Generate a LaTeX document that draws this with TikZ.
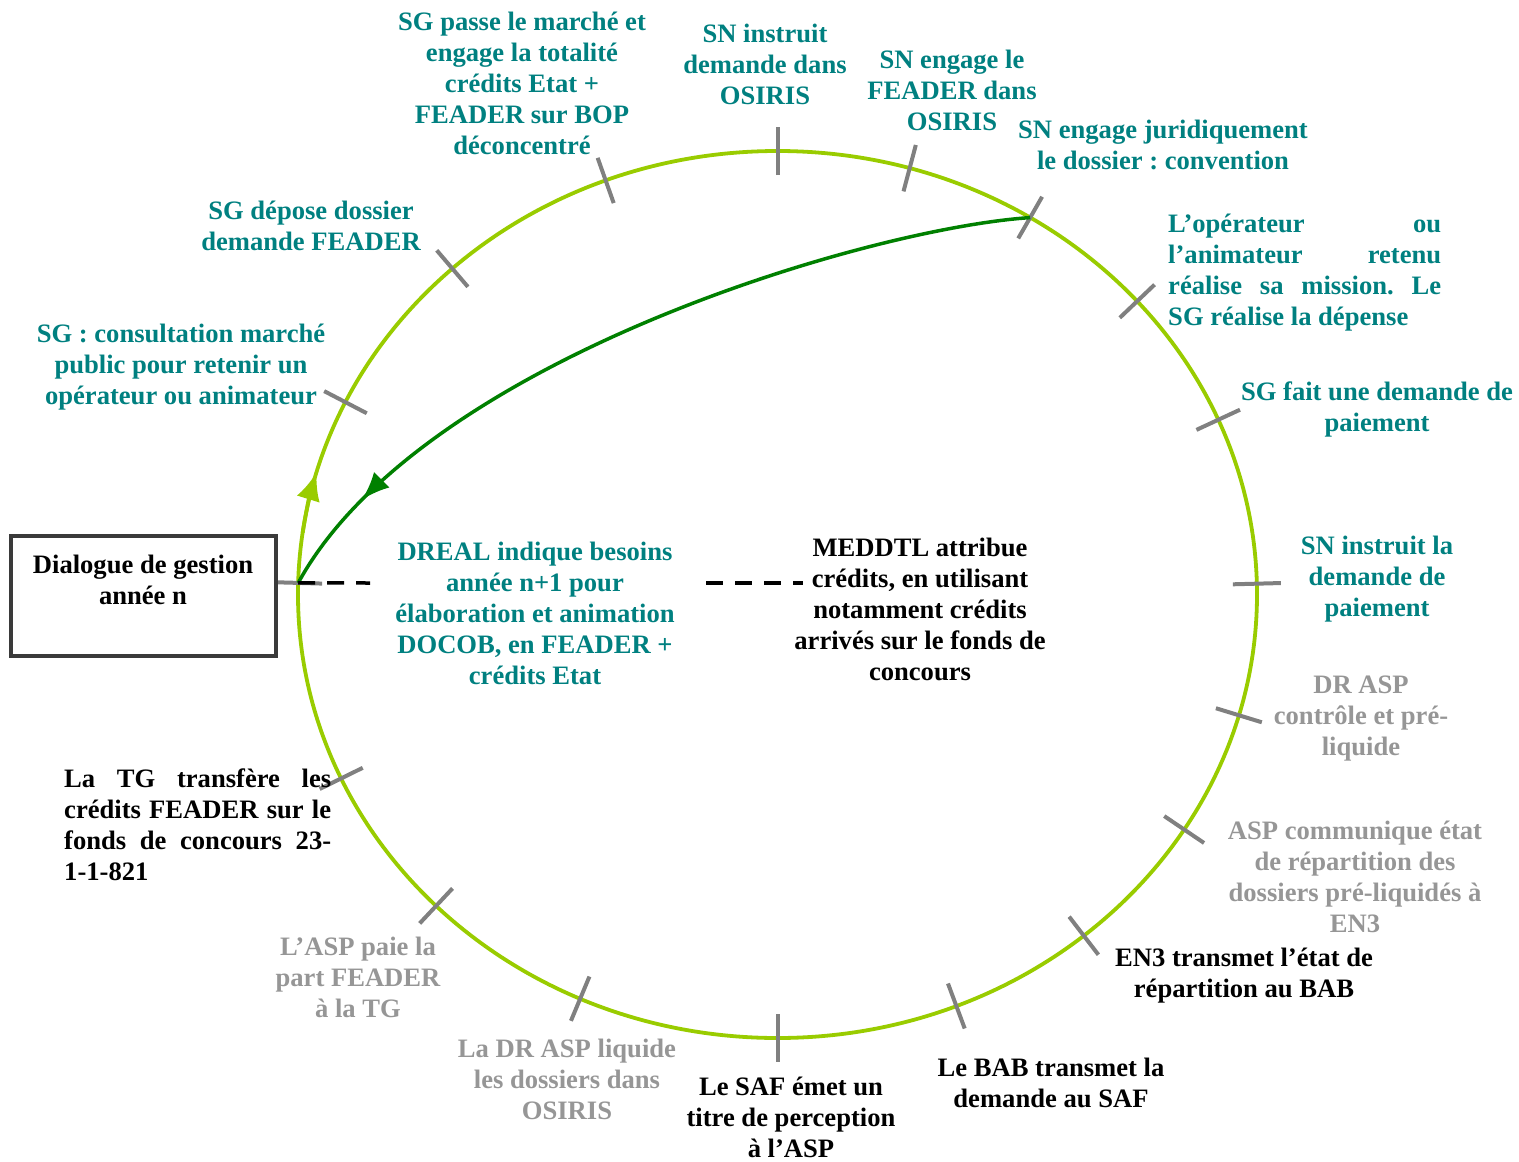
\documentclass[tikz,border=0pt]{standalone}
\usepackage{fontspec}
\setmainfont{Liberation Serif}
\frenchspacing
\usetikzlibrary{arrows.meta,decorations.markings}
\definecolor{teal}{RGB}{0,128,128}
\definecolor{lgreen}{RGB}{153,204,0}
\definecolor{dgreen}{RGB}{0,128,0}
\definecolor{tickgray}{RGB}{128,128,128}
\definecolor{txtgray}{RGB}{150,150,150}
\definecolor{boxgray}{RGB}{58,58,58}
\tikzset{
  lbl/.style={inner sep=0pt, align=center, font={\fontsize{26.6}{31}\selectfont\bfseries\frenchspacing}},
  tealtxt/.style={lbl, text=teal},
  blacktxt/.style={lbl, text=black},
  graytxt/.style={lbl, text=txtgray},
  tickline/.style={draw=tickgray, line width=4pt},
  ring/.style={draw=lgreen, line width=3.8pt},
  blackdash/.style={draw=black, line width=3.5pt, dash pattern=on 17pt off 12pt},
}
\begin{document}
\begin{tikzpicture}[x=1pt,y=-1pt]
\useasboundingbox (0,0) rectangle (1519,1162);
% ring
\draw[ring] (777.5,594.5) ellipse [x radius=479.5, y radius=443.5];
% ticks
\foreach \t in {181.5,205.7,227.3,249.0,270,286.0,301.8,318.6,336.8,358.6,15.8,32.0,50.3,68.1,90,114.3,135.4,155.5}{
  \pgfmathsetmacro\px{777.5+479.5*cos(\t)}
  \pgfmathsetmacro\py{594.5+443.5*sin(\t)}
  \pgfmathsetmacro\ax{4.435*cos(\t)}
  \pgfmathsetmacro\ay{4.795*sin(\t)}
  \pgfmathsetmacro\nn{sqrt(\ax*\ax+\ay*\ay)}
  \pgfmathsetmacro\dx{24*\ax/\nn}
  \pgfmathsetmacro\dy{24*\ay/\nn}
  \draw[tickline] ({\px-\dx},{\py-\dy}) -- ({\px+\dx},{\py+\dy});
}
% light green arrow on ring
\draw[ring, -{Latex[length=28pt,width=24pt]}] (302.7,532.8) arc[start angle=188, end angle=196, x radius=479.5, y radius=443.5];
% coordinates
\coordinate (start) at (298.2,582.9);
\coordinate (conv) at (1030.2,217.6);
\coordinate (dashA) at (370,583);
\coordinate (dashB1) at (706,583);
\coordinate (dashB2) at (803,583);
% dark green curve
\draw[dgreen, line width=3.5pt, postaction={decorate},
  decoration={markings, mark=at position 0.875 with {\arrow{Latex[length=28pt,width=22pt]}}}]
  (conv) .. controls (870,228) and (420,360) .. (start);
% box
\node[draw=boxgray, line width=3.5pt, fill=white, minimum width=265pt, minimum height=120pt, inner sep=0pt] (dlg) at (143.5,596) {};
\node[blacktxt] (dlgt) at (143,580) {Dialogue de gestion\\année n};
% dashed lines
\draw[blackdash] (start) -- (dashA);
\draw[blackdash] (dashB1) -- (dashB2);
% teal labels
\node[tealtxt] (a) at (522,83) {SG passe le marché et\\engage la totalité\\crédits Etat +\\FEADER sur BOP\\déconcentré};
\node[tealtxt] (b) at (765,64) {SN instruit\\demande dans\\OSIRIS};
\node[tealtxt] (c) at (952,90) {SN engage le\\FEADER dans\\OSIRIS};
\node[tealtxt] (d) at (1163,145) {SN engage juridiquement\\le dossier : convention};
\node[tealtxt, align=left, anchor=west] (e) at (1168,272.5) {\makebox[273pt][s]{L’opérateur ou}\\\makebox[273pt][s]{l’animateur retenu}\\\makebox[273pt][s]{réalise sa mission. Le}\\SG réalise la dépense};
\node[tealtxt] (f) at (1377,409) {SG fait une demande de\\paiement};
\node[tealtxt] (g) at (1377,579) {SN instruit la\\demande de\\paiement};
\node[tealtxt] (h) at (311,225.5) {SG dépose dossier\\demande FEADER};
\node[tealtxt] (i) at (181,367) {SG : consultation marché\\public pour retenir un\\opérateur ou animateur};
\node[tealtxt] (j) at (535,613) {DREAL indique besoins\\année n+1 pour\\élaboration et animation\\DOCOB, en FEADER +\\crédits Etat};
% black labels
\node[blacktxt] (k) at (920,609.5) {MEDDTL attribue\\crédits, en utilisant\\notamment crédits\\arrivés sur le fonds de\\concours};
\node[blacktxt, align=left, anchor=west] (l) at (64,824.5) {\makebox[267pt][s]{La TG transfère les}\\\makebox[267pt][s]{crédits FEADER sur le}\\\makebox[267pt][s]{fonds de concours 23-}\\1-1-821};
\node[blacktxt] (m) at (1244,975.5) {EN3 transmet l’état de\\répartition au BAB};
\node[blacktxt] (n) at (1051,1082.5) {Le BAB transmet la\\demande au SAF};
\node[blacktxt] (o) at (791,1117) {Le SAF émet un\\titre de perception\\à l’ASP};
% gray labels
\node[graytxt] (p) at (1361,719) {DR ASP\\contrôle et pré-\\liquide};
\node[graytxt] (q) at (1355,876.5) {ASP communique état\\de répartition des\\dossiers pré-liquidés à\\EN3};
\node[graytxt] (r) at (358,977) {L’ASP paie la\\part FEADER\\à la TG};
\node[graytxt] (s) at (567,1079) {La DR ASP liquide\\les dossiers dans\\OSIRIS};
\end{tikzpicture}
\end{document}
